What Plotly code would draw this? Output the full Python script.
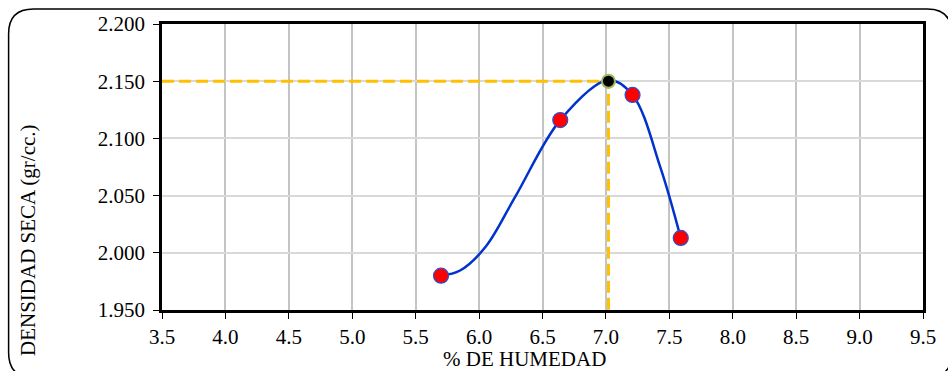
import plotly.graph_objects as go

# ---- data ----
humedad = [5.70, 6.64, 7.21, 7.59]
densidad = [1.980, 2.116, 2.138, 2.013]
max_humedad = [7.02]
max_densidad = [2.150]
curve_x = [5.70, 5.85, 6.05, 6.29, 6.64, 7.02, 7.21, 7.43, 7.59]
curve_y = [1.980, 1.9845, 2.005, 2.050, 2.116, 2.151, 2.138, 2.0745, 2.013]
x_range = [3.5, 9.5]
y_range = [1.950, 2.200]

W, H = 948, 371
L, R, T, B = 162, 22, 22, 61
PW, PH = W - L - R, H - T - B

def px(x):
    return (x - L) / PW

def py(y):
    return (H - B - y) / PH

FONT = "Liberation Serif, serif"
FS = 21

fig = go.Figure()

# guide lines at the maximum
fig.add_trace(go.Scatter(
    x=[x_range[0], max_humedad[0], max_humedad[0]],
    y=[max_densidad[0], max_densidad[0], y_range[0]],
    mode="lines", line=dict(color="#FFC000", width=3, dash="12px,5px"),
    hoverinfo="skip", showlegend=False))

fig.add_trace(go.Scatter(
    x=curve_x, y=curve_y, mode="lines",
    line=dict(color="#0033CC", width=2.5, shape="spline", smoothing=1.0),
    showlegend=False))

fig.add_trace(go.Scatter(
    x=humedad, y=densidad, mode="markers",
    marker=dict(color="#FF0000", size=15, line=dict(color="#2E4FD0", width=1.2)),
    showlegend=False))

fig.add_trace(go.Scatter(
    x=max_humedad, y=max_densidad, mode="markers",
    marker=dict(color="#000000", size=13, line=dict(color="#9BBB59", width=2)),
    showlegend=False))

fig.update_xaxes(
    range=x_range, dtick=0.5, tick0=3.5, tickformat=".1f",
    showgrid=True, gridcolor="#C4C4C4", gridwidth=2,
    showline=True, linecolor="black", linewidth=2.5, mirror=True,
    ticks="outside", ticklen=6, tickcolor="black", tickwidth=1.2,
    ticklabelstandoff=0,
    zeroline=False,
    tickfont=dict(family=FONT, size=FS, color="black"))

fig.update_yaxes(
    range=y_range, dtick=0.05, tick0=1.95, tickformat=".3f",
    showgrid=True, gridcolor="#D9D9D9", gridwidth=2,
    showline=True, linecolor="black", linewidth=2.5, mirror=True,
    ticks="outside", ticklen=6, tickcolor="black", tickwidth=1.2,
    ticklabelstandoff=4,
    zeroline=False,
    tickfont=dict(family=FONT, size=FS, color="black"))

# axis titles
fig.add_annotation(
    text="% DE HUMEDAD", xref="paper", yref="paper",
    x=px(526), y=py(359), xanchor="center", yanchor="middle",
    showarrow=False, font=dict(family=FONT, size=FS, color="black"))
fig.add_annotation(
    text="DENSIDAD SECA (gr/cc.)",
    xref="paper", yref="paper", textangle=-90,
    x=px(28), y=py(240), xanchor="center", yanchor="middle",
    showarrow=False, font=dict(family=FONT, size=FS, color="black"))

# rounded outer border
x0, x1, y0, y1, r = 8, 955, 7, 378, 25
path = (f"M {px(x0)},{py(y0 + r)} "
        f"Q {px(x0)},{py(y0)} {px(x0 + r)},{py(y0)} "
        f"L {px(x1 - r)},{py(y0)} "
        f"Q {px(x1)},{py(y0)} {px(x1)},{py(y0 + r)} "
        f"L {px(x1)},{py(y1 - r)} "
        f"Q {px(x1)},{py(y1)} {px(x1 - r)},{py(y1)} "
        f"L {px(x0 + r)},{py(y1)} "
        f"Q {px(x0)},{py(y1)} {px(x0)},{py(y1 - r)} Z")
fig.add_shape(type="path", path=path, xref="paper", yref="paper",
              line=dict(color="black", width=1.5), layer="below")

fig.update_layout(
    width=W, height=H,
    margin=dict(l=L, r=R, t=T, b=B, pad=0),
    paper_bgcolor="white", plot_bgcolor="white",
    showlegend=False,
    font=dict(family=FONT, color="black"))

fig.write_html("out.html", config={"displayModeBar": False})
